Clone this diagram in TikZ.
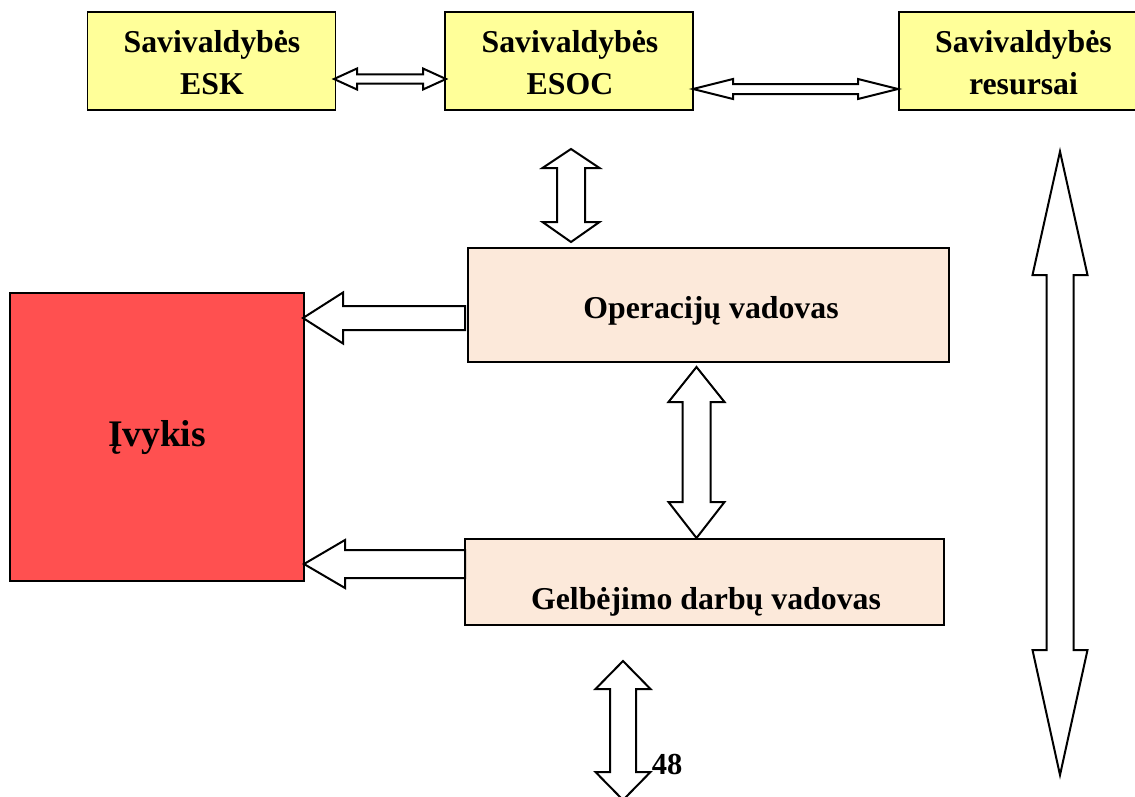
\documentclass[tikz,border=0pt]{standalone}
\usepackage{fontspec}
\setmainfont{Liberation Serif}
\definecolor{boxyellow}{RGB}{255,255,153}
\definecolor{boxpeach}{RGB}{252,233,218}
\definecolor{eventred}{RGB}{255,80,80}
\newcommand{\hdblarrow}[6]{% xL xR yc headlen headhalf shafthalf
  \draw[blockarrow] (#1,#3) -- ({#1+#4},{#3-#5}) -- ({#1+#4},{#3-#6}) -- ({#2-#4},{#3-#6}) -- ({#2-#4},{#3-#5}) -- (#2,#3)
    -- ({#2-#4},{#3+#5}) -- ({#2-#4},{#3+#6}) -- ({#1+#4},{#3+#6}) -- ({#1+#4},{#3+#5}) -- cycle;}
\newcommand{\vdblarrow}[7]{% x yT yB headT headB headhalf shafthalf
  \draw[blockarrow] (#1,#2) -- ({#1+#6},{#2+#4}) -- ({#1+#7},{#2+#4}) -- ({#1+#7},{#3-#5}) -- ({#1+#6},{#3-#5}) -- (#1,#3)
    -- ({#1-#6},{#3-#5}) -- ({#1-#7},{#3-#5}) -- ({#1-#7},{#2+#4}) -- ({#1-#6},{#2+#4}) -- cycle;}
\newcommand{\leftblockarrow}[6]{% xtip xtail yc headback headhalf shafthalf
  \draw[blockarrow] (#1,#3) -- (#4,{#3-#5}) -- (#4,{#3-#6}) -- (#2,{#3-#6}) -- (#2,{#3+#6}) -- (#4,{#3+#6}) -- (#4,{#3+#5}) -- cycle;}
\begin{document}
\begin{tikzpicture}[x=1pt,y=-1pt,
  blockarrow/.style={draw=black,fill=white,line width=2pt,line join=miter},
  topbox/.style={draw=black,line width=1.2pt,fill=boxyellow,minimum width=248pt,minimum height=98pt,inner sep=0pt},
  midbox/.style={draw=black,line width=1.2pt,fill=boxpeach,inner sep=0pt},
  label/.style={font=\fontsize{31.8}{41}\selectfont\bfseries,align=center,inner sep=0pt},
]
\useasboundingbox (0,0) rectangle (1135,796);
\fill[white] (0,0) rectangle (1135,796);
% top boxes
\node[topbox] (esk) at (211.5,61) {};
\node[topbox] (esoc) at (569,61) {};
\node[topbox,minimum width=250pt] (res) at (1024,61) {};
\node[label,anchor=base] (eskt) at (212,52) {Savivaldybės};
\node[label,anchor=base] (eskt2) at (212,94) {ESK};
\node[label,anchor=base] (esoct) at (570,52) {Savivaldybės};
\node[label,anchor=base] (esoct2) at (570,94) {ESOC};
\node[label,anchor=base] (rest) at (1023.5,52) {Savivaldybės};
\node[label,anchor=base] (rest2) at (1023.5,94) {resursai};
% middle boxes
\node[midbox,minimum width=481pt,minimum height=114pt] (op) at (708.5,305) {};
\node[label,anchor=base] (opt) at (711,318) {Operacijų vadovas};
\node[midbox,minimum width=479pt,minimum height=86pt] (gel) at (704.5,582) {};
\node[label,anchor=base] (gelt) at (706,609) {Gelbėjimo darbų vadovas};
% event
\node[draw=black,line width=1.2pt,fill=eventred,minimum width=294pt,minimum height=288pt,inner sep=0pt] (ev) at (157,437) {};
\node[font=\fontsize{37.5}{40}\selectfont\bfseries,anchor=base,inner sep=0pt] (evt) at (157,446) {Įvykis};
% arrows
\hdblarrow{334}{446}{79}{23}{10.5}{4.7}
\hdblarrow{693}{898}{89}{40}{10}{5}
\vdblarrow{571}{149}{242}{19}{20}{28.5}{14}
\vdblarrow{696.5}{367}{538}{35}{36}{28}{14}
\vdblarrow{623}{661}{800}{28}{28}{27.5}{13}
\vdblarrow{1060}{151.5}{775}{123.5}{125}{27.5}{13.5}
\leftblockarrow{303}{465}{318}{343}{25.5}{12}
\leftblockarrow{304}{465}{564}{345}{24}{14}
% page number
\node[font=\fontsize{30.5}{34}\selectfont\bfseries,anchor=base,inner sep=0pt] (pg) at (667,774) {48};
\end{tikzpicture}
\end{document}
